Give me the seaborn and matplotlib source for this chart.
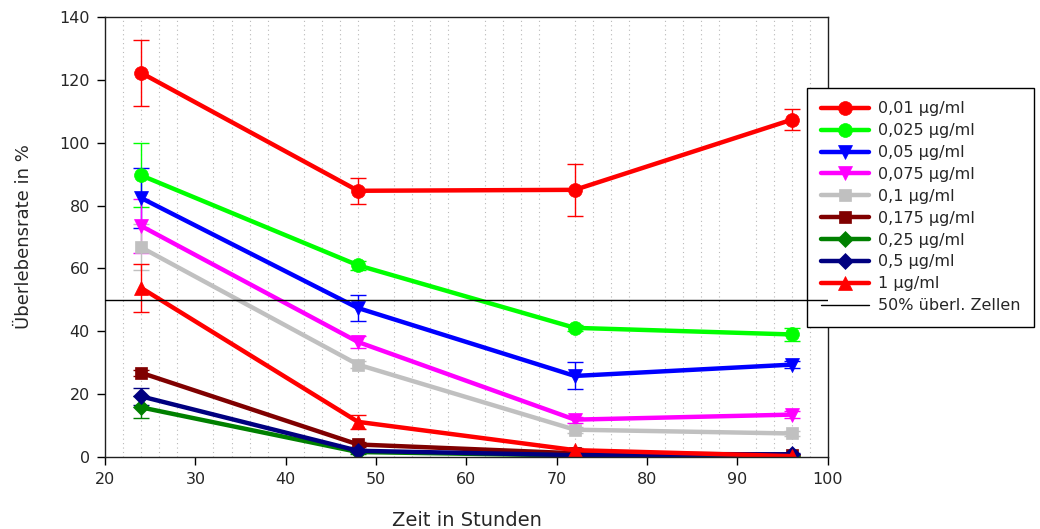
import matplotlib
matplotlib.use("Agg")
import matplotlib.pyplot as plt
import seaborn as sns
import numpy as np
import pandas as pd

# Zeitpunkte (Stunden)
zeit = [24, 48, 72, 96]

# Konzentrationen und Überlebensraten (%) mit Standardabweichung
konzentrationen = ["0,01 µg/ml", "0,025 µg/ml", "0,05 µg/ml", "0,075 µg/ml",
                   "0,1 µg/ml", "0,175 µg/ml", "0,25 µg/ml", "0,5 µg/ml", "1 µg/ml"]

r_001 = [122.2, 84.7, 85.0, 107.3]
r_0025 = [89.6, 61.0, 41.1, 39.0]
r_005 = [82.4, 47.4, 25.8, 29.4]
r_0075 = [73.5, 36.6, 11.9, 13.5]
r_01 = [66.7, 29.4, 8.7, 7.5]
r_0175 = [26.8, 4.0, 1.2, 0.8]
r_025 = [15.8, 1.6, 0.5, 0.3]
r_05 = [19.3, 2.0, 0.6, 0.9]
r_1 = [53.8, 11.2, 2.2, 0.3]

sd_001 = [10.5, 4.2, 8.3, 3.4]
sd_0025 = [10.2, 1.5, 1.0, 2.0]
sd_005 = [9.6, 4.2, 4.3, 1.0]
sd_0075 = [8.6, 1.8, 1.0, 1.0]
sd_01 = [7.3, 1.0, 1.0, 0.8]
sd_0175 = [1.0, 0.8, 0.5, 0.3]
sd_025 = [3.5, 0.5, 0.3, 0.2]
sd_05 = [2.6, 0.5, 0.3, 0.3]
sd_1 = [7.7, 2.2, 0.8, 0.3]

werte = [r_001, r_0025, r_005, r_0075, r_01, r_0175, r_025, r_05, r_1]
fehler = [sd_001, sd_0025, sd_005, sd_0075, sd_01, sd_0175, sd_025, sd_05, sd_1]

farben = ["#FF0000", "#00FF00", "#0000FF", "#FF00FF", "#C0C0C0",
          "#800000", "#008000", "#000080", "#FF0000"]
marker = ["o", "o", "v", "v", "s", "s", "D", "D", "^"]
marker_groesse = [10, 10, 10, 10, 9, 9, 8, 8, 10]

grenze = 50

sns.set_style("ticks")
plt.rcParams["font.family"] = ["DejaVu Sans"]

fig = plt.figure(figsize=(10.4, 5.29), dpi=100)
ax = fig.add_axes([0.101, 0.136, 0.695, 0.832])

for name, y, err, c, m, ms in zip(konzentrationen, werte, fehler, farben, marker, marker_groesse):
    df = pd.DataFrame({"Zeit": zeit, "Rate": y})
    ax.errorbar(zeit, y, yerr=err, fmt="none", ecolor=c, elinewidth=1.0,
                capsize=6, capthick=1.0, zorder=1.5)
    sns.lineplot(data=df, x="Zeit", y="Rate", ax=ax, color=c, lw=3.2,
                 marker=m, markersize=ms, markeredgecolor=c, markeredgewidth=0.5,
                 label=name, zorder=2)

ax.axhline(grenze, color="black", lw=1.0, zorder=6, label="50% überl. Zellen")

ax.set_xlim(20, 100)
ax.set_ylim(0, 140)
ax.set_xticks(np.arange(20, 101, 10))
ax.set_yticks(np.arange(0, 141, 20))
ax.set_xticks([v for v in range(22, 100, 2) if v % 10 != 0], minor=True)
ax.grid(which="minor", axis="x", linestyle=(0, (1, 3)), color="#B8B8B8", lw=0.8)
ax.grid(which="major", visible=False)
ax.tick_params(which="minor", length=0)
ax.tick_params(which="major", direction="out", length=6, width=1.0,
               labelsize=11.5, color="black", pad=5)

for s in ax.spines.values():
    s.set_visible(True)
    s.set_linewidth(1.0)
    s.set_color("#202020")

ax.set_xlabel("Zeit in Stunden", fontsize=14, labelpad=17)
ax.set_ylabel("Überlebensrate in %", fontsize=13, labelpad=19)

leg = ax.legend(loc="upper left", bbox_to_anchor=(0.776, 0.834),
                bbox_transform=fig.transFigure, borderaxespad=0,
                fontsize=11.5, frameon=True, fancybox=False, framealpha=1,
                edgecolor="black", handlelength=3.0, handletextpad=0.6,
                labelspacing=0.43, borderpad=0.85)
leg.get_frame().set_linewidth(1.0)
leg.set_zorder(5)

fig.savefig("out.png", dpi=100)
